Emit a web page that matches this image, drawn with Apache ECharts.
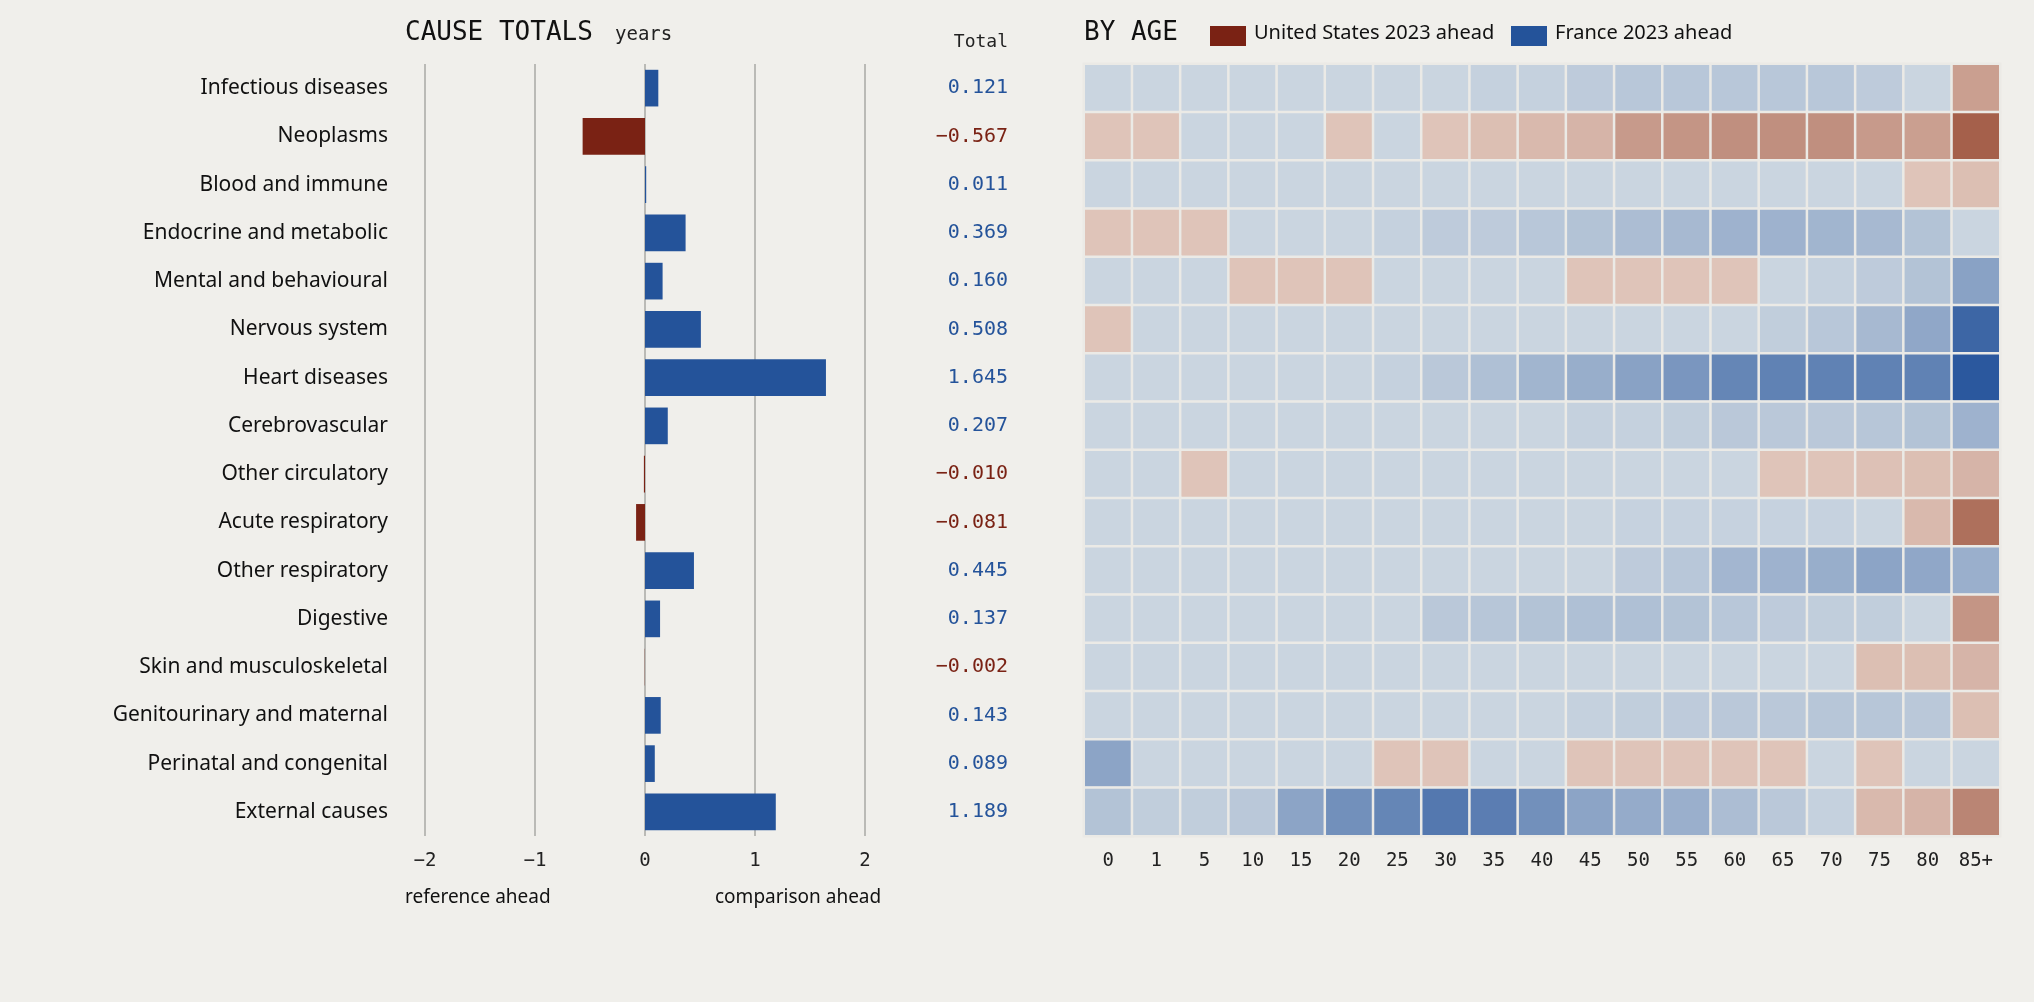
<!DOCTYPE html>
<html><head><meta charset="utf-8">
<script src="https://cdn.jsdelivr.net/npm/echarts@6/dist/echarts.min.js"></script>
<style>html,body{margin:0;padding:0;background:#f0efeb}#c{width:2034px;height:1002px}</style>
</head><body><div id="c"></div>
<script>
const causes = ["Infectious diseases","Neoplasms","Blood and immune","Endocrine and metabolic","Mental and behavioural","Nervous system","Heart diseases","Cerebrovascular","Other circulatory","Acute respiratory","Other respiratory","Digestive","Skin and musculoskeletal","Genitourinary and maternal","Perinatal and congenital","External causes"];
const totals = [0.121,-0.567,0.011,0.369,0.160,0.508,1.645,0.207,-0.010,-0.081,0.445,0.137,-0.002,0.143,0.089,1.189];
const ages = ["0","1","5","10","15","20","25","30","35","40","45","50","55","60","65","70","75","80","85+"];
const xTicks = [-2,-1,0,1,2];
const heat = [
 [0.05,0.05,0.05,0.05,0.05,0.05,0.05,0.05,0.08,0.08,0.12,0.15,0.15,0.15,0.15,0.15,0.12,0.05,-0.4],
 [-0.05,-0.05,0.05,0.05,0.05,-0.05,0.05,-0.05,-0.1,-0.15,-0.2,-0.45,-0.5,-0.55,-0.55,-0.55,-0.45,-0.4,-1],
 [0.05,0.05,0.05,0.05,0.05,0.05,0.05,0.05,0.05,0.05,0.05,0.05,0.05,0.05,0.05,0.05,0.05,-0.05,-0.1],
 [-0.05,-0.05,-0.05,0.05,0.05,0.05,0.08,0.12,0.12,0.15,0.18,0.22,0.25,0.3,0.3,0.28,0.25,0.18,0.05],
 [0.05,0.05,0.05,-0.05,-0.05,-0.05,0.05,0.05,0.05,0.05,-0.05,-0.05,-0.05,-0.05,0.05,0.08,0.12,0.18,0.42],
 [-0.05,0.05,0.05,0.05,0.05,0.05,0.05,0.05,0.05,0.05,0.05,0.05,0.05,0.05,0.1,0.15,0.25,0.38,0.85],
 [0.05,0.05,0.05,0.05,0.05,0.05,0.08,0.14,0.2,0.28,0.33,0.42,0.5,0.62,0.65,0.65,0.65,0.65,0.95],
 [0.05,0.05,0.05,0.05,0.05,0.05,0.05,0.05,0.05,0.05,0.08,0.08,0.1,0.14,0.14,0.14,0.16,0.18,0.3],
 [0.05,0.05,-0.05,0.05,0.05,0.05,0.05,0.05,0.05,0.05,0.05,0.05,0.05,0.05,-0.05,-0.05,-0.08,-0.1,-0.2],
 [0.05,0.05,0.05,0.05,0.05,0.05,0.05,0.05,0.05,0.05,0.05,0.07,0.07,0.07,0.07,0.07,0.05,-0.15,-0.85],
 [0.05,0.05,0.05,0.05,0.05,0.05,0.05,0.05,0.05,0.05,0.05,0.12,0.15,0.27,0.3,0.33,0.4,0.38,0.32],
 [0.05,0.05,0.05,0.05,0.05,0.05,0.05,0.14,0.16,0.18,0.2,0.2,0.18,0.15,0.12,0.1,0.1,0.05,-0.5],
 [0.05,0.05,0.05,0.05,0.05,0.05,0.05,0.05,0.05,0.05,0.05,0.05,0.05,0.05,0.05,0.05,-0.1,-0.1,-0.2],
 [0.05,0.05,0.05,0.05,0.05,0.05,0.05,0.05,0.05,0.05,0.08,0.1,0.12,0.14,0.14,0.16,0.16,0.14,-0.1],
 [0.4,0.05,0.05,0.05,0.05,0.05,-0.05,-0.05,0.05,0.05,-0.05,-0.05,-0.05,-0.05,-0.05,0.05,-0.05,0.05,0.05],
 [0.18,0.1,0.1,0.14,0.4,0.55,0.62,0.72,0.68,0.55,0.4,0.35,0.32,0.22,0.14,0.08,-0.15,-0.2,-0.65]
];
const RED='#7a2214', BLUE='#24539a';
function mix(a,b,t){const p=s=>[1,3,5].map(i=>parseInt(s.substr(i,2),16));const A=p(a),B=p(b);return 'rgb('+A.map((v,i)=>Math.round(v+(B[i]-v)*t)).join(',')+')';}
function cellColor(v){const t=Math.min(1,Math.abs(v));return v>=0?mix('#cad5e0','#22519a',Math.max(0,(t-0.05)/0.95)):mix('#dfc4b9','#a5604b',Math.max(0,(t-0.05)/0.95));}
const heatData=[];
heat.forEach((row,r)=>row.forEach((v,c)=>heatData.push({value:[c,r,v],itemStyle:{color:cellColor(v)}})));
const SANS='"Liberation Sans Narrow","Noto Sans",sans-serif', MONO='"DejaVu Sans Mono",monospace';
const chart=echarts.init(document.getElementById('c'));
chart.setOption({
 backgroundColor:'#f0efeb',animation:false,
 grid:[{left:425,top:64,width:440,height:772},{left:1084,top:64,width:916,height:772}],
 xAxis:[
  {gridIndex:0,type:'value',min:-2,max:2,interval:1,axisLine:{show:false},axisTick:{show:false},
   splitLine:{lineStyle:{color:'#a8a8a4',width:1.5}},axisLabel:{fontFamily:MONO,fontSize:19,color:'#222',margin:16,formatter:v=>String(v).replace('-','\u2212')}},
  {gridIndex:1,type:'category',data:ages,axisLine:{show:false},axisTick:{show:false},splitLine:{show:false},
   axisLabel:{fontFamily:MONO,fontSize:19,color:'#222',margin:16}}
 ],
 yAxis:[
  {gridIndex:0,type:'category',data:causes,inverse:true,axisLine:{show:false},axisTick:{show:false},
   axisLabel:{fontFamily:SANS,fontSize:21,color:'#111',margin:37}},
  {gridIndex:0,type:'category',data:totals.map(String),inverse:true,position:'right',axisLine:{show:false},axisTick:{show:false},
   axisLabel:{margin:143,align:'right',formatter:(v,i)=>{const n=totals[i];return '{'+(n<0?'r':'b')+'|'+(n<0?'\u2212':'')+Math.abs(n).toFixed(3)+'}';},
    rich:{r:{color:RED,fontFamily:MONO,fontSize:20},b:{color:BLUE,fontFamily:MONO,fontSize:20}}}},
  {gridIndex:1,type:'category',data:causes,inverse:true,show:false}
 ],
 series:[
  {type:'bar',xAxisIndex:0,yAxisIndex:0,barCategoryGap:'24%',
   data:totals.map(v=>({value:v,itemStyle:{color:v<0?RED:BLUE}}))},
  {type:'heatmap',xAxisIndex:1,yAxisIndex:2,data:heatData,itemStyle:{borderColor:'#ebeae6',borderWidth:2.5}}
 ],
 graphic:[
  {type:'text',left:405,top:20,style:{text:'CAUSE TOTALS',fontFamily:MONO,fontSize:26,fill:'#111'}},
  {type:'text',left:615,top:26,style:{text:'years',fontFamily:MONO,fontSize:19,fill:'#222'}},
  {type:'text',right:1026,top:33,style:{text:'Total',fontFamily:MONO,fontSize:18,fill:'#222'}},
  {type:'text',left:405,top:888,style:{text:'reference ahead',fontFamily:SANS,fontSize:19,fill:'#111'}},
  {type:'text',left:715,top:888,style:{text:'comparison ahead',fontFamily:SANS,fontSize:19,fill:'#111'}},
  {type:'text',left:1084,top:20,style:{text:'BY AGE',fontFamily:MONO,fontSize:26,fill:'#111'}},
  {type:'rect',left:1210,top:26,shape:{width:36,height:20},style:{fill:RED}},
  {type:'text',left:1254,top:23,style:{text:'United States 2023 ahead',fontFamily:SANS,fontSize:20,fill:'#111'}},
  {type:'rect',left:1511,top:26,shape:{width:36,height:20},style:{fill:BLUE}},
  {type:'text',left:1555,top:23,style:{text:'France 2023 ahead',fontFamily:SANS,fontSize:20,fill:'#111'}}
 ]
});
</script></body></html>
